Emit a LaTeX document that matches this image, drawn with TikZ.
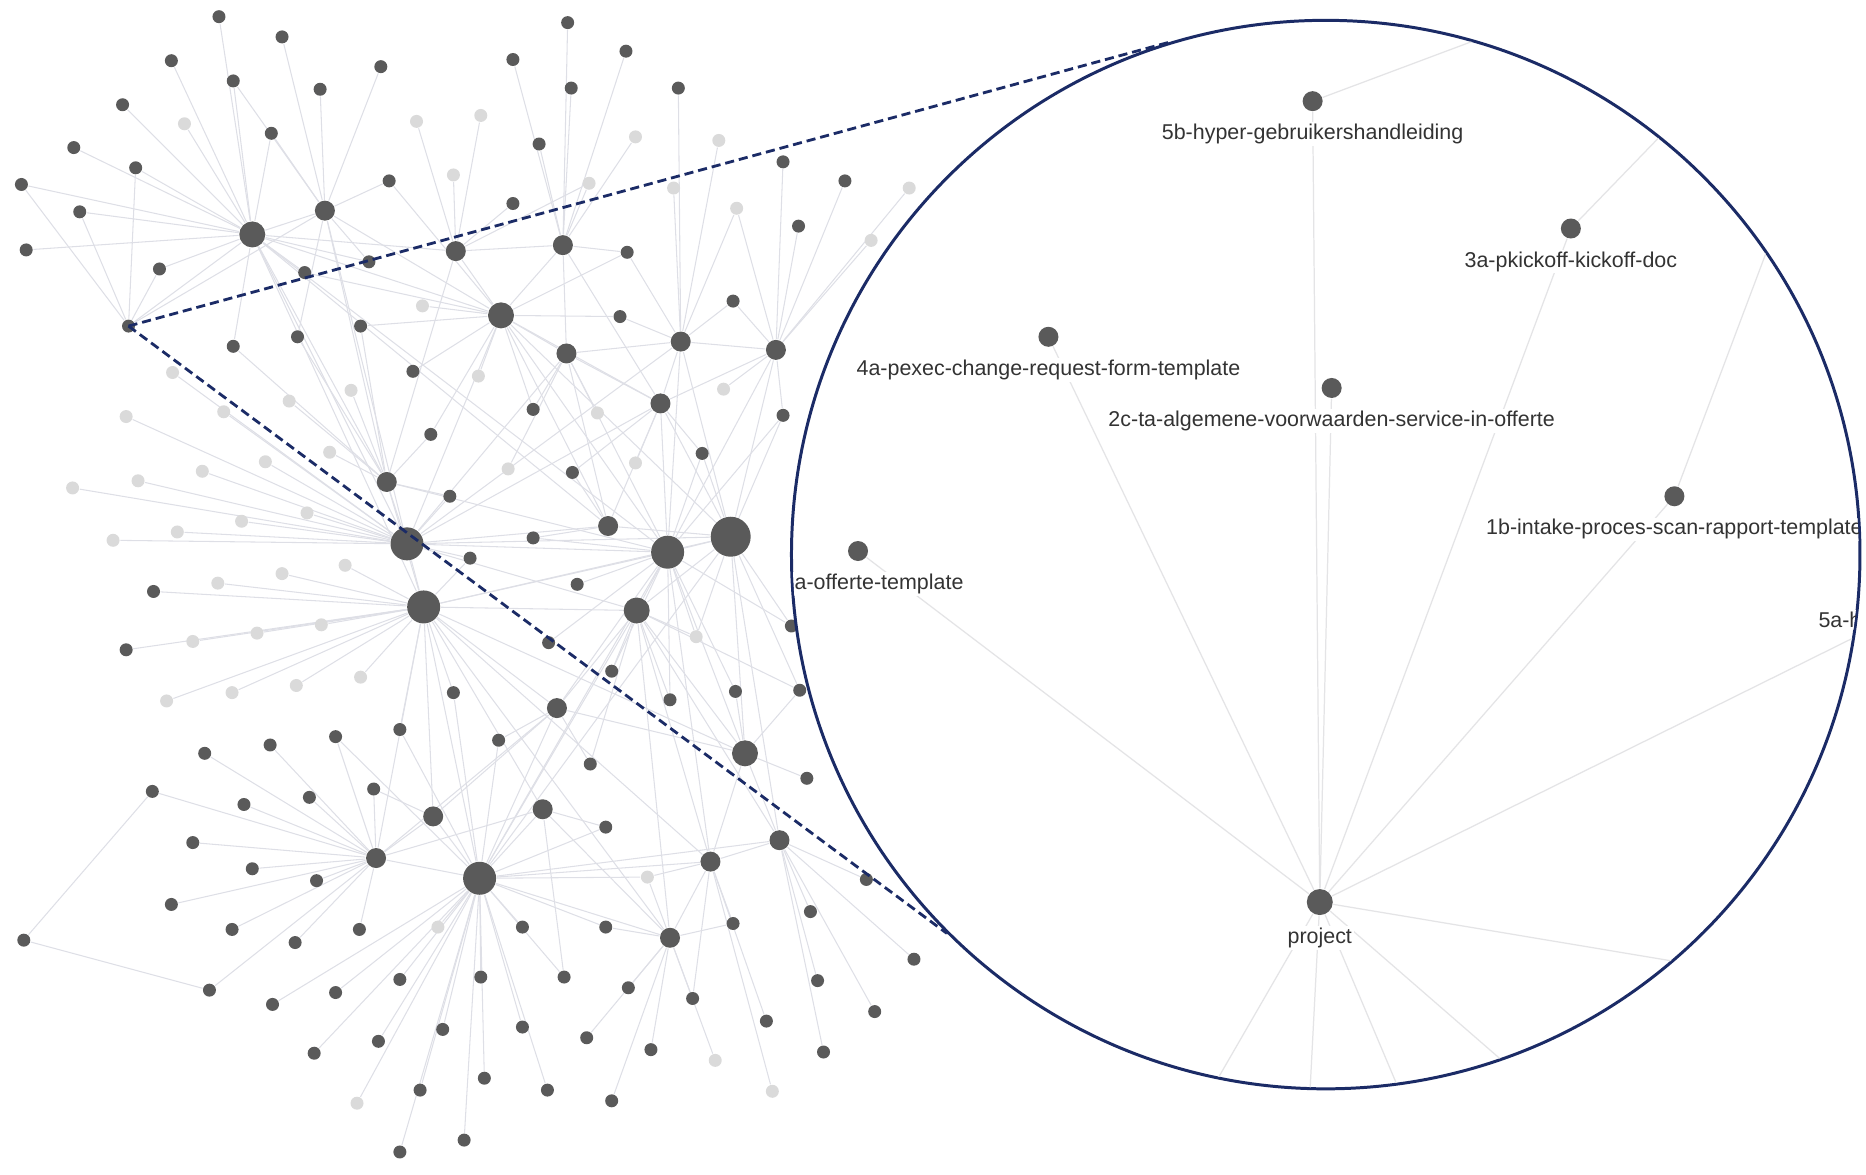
\documentclass[tikz,border=0pt]{standalone}
\usepackage{fontspec}
\setmainfont{Liberation Sans}
\usetikzlibrary{positioning,backgrounds}

\definecolor{dotgray}{HTML}{5A5A5A}
\definecolor{dotlite}{HTML}{DADADA}
\definecolor{linkgray}{HTML}{DEDFE6}
\definecolor{lenslink}{HTML}{E4E4E6}
\definecolor{lensblue}{HTML}{1B2B66}
\definecolor{labelgray}{HTML}{333333}

\begin{document}
\begin{tikzpicture}[x=0.0119cm, y=-0.0119cm,
  dot/.style={circle, fill=dotgray, inner sep=0pt, minimum size=1.3mm},
  lite/.style={dot, fill=dotlite},
  mid/.style={dot, minimum size=2mm},
  big/.style={dot, minimum size=2.6mm},
  huge/.style={dot, minimum size=3.3mm},
  giant/.style={dot, minimum size=4mm},
  link/.style={draw=linkgray, line width=0.3pt},
  zlink/.style={draw=lenslink, line width=0.35pt},
  lens/.style={circle, draw=lensblue, line width=0.85pt, fill=white, inner sep=0pt, minimum size=10.686cm},
  zoomline/.style={draw=lensblue, line width=0.8pt, dash pattern=on 2.6pt off 1.4pt},
  lbl/.style={font=\fontsize{6.1}{7}\selectfont, text=labelgray, fill=white, inner sep=0.5pt}]

\useasboundingbox (0,0) rectangle (1568,987);

% hubs
\node[big] (A) at (212,197) {};
\node[mid] (B) at (273,177) {};
\node[big] (C) at (421,265) {};
\node[huge] (D) at (342,457) {};
\node[huge] (E) at (356,510) {};
\node[huge] (F) at (561,464) {};
\node[giant] (G) at (614,451) {};
\node[big] (H) at (535,513) {};
\node[huge] (I) at (403,738) {};
\node[mid] (J) at (316,721) {};
\node[mid] (K) at (563,788) {};
\node[mid] (L) at (597,724) {};
\node[mid] (M) at (655,706) {};
\node[big] (N) at (626,633) {};
\node[mid] (P) at (555,339) {};
\node[mid] (Q) at (511,442) {};
\node[mid] (R) at (325,405) {};
\node[mid] (S) at (572,287) {};
\node[mid] (T) at (652,294) {};
\node[mid] (U) at (473,206) {};
\node[mid] (V) at (383,211) {};
\node[mid] (W) at (476,297) {};
\node[mid] (X) at (468,595) {};
\node[mid] (Y) at (456,680) {};
\node[mid] (Z) at (364,686) {};
\node[dot] (o) at (108,274) {};

% leaves
\foreach \n/\x/\y in {a1/184/14, a2/144/51, a3/196/68, a4/103/88, a6/228/112, a7/62/124,
    a8/114/141, a9/18/155, a10/67/178, a11/22/210, a12/134/226, a13/256/229,
    b1/237/31, b2/269/75, b3/320/56, b4/327/152, b5/310/220, v4/431/171,
    u1/431/50, u2/477/19, u3/480/74, u4/526/43, u5/453/121,
    c2/303/274, c3/347/312, c5/362/365, c6/521/266,
    s1/570/74, s4/527/212, s5/616/253, t1/658/136, t2/710/152, t3/671/190, t7/658/349,
    w1/448/344, p2/590/381, p3/481/397, r3/250/283, r4/196/291, r6/378/417,
    d12/395/469, e4/129/497, e5/106/546, e13/381/582, e14/336/613,
    f1/448/452, f2/485/491, f3/461/540, f4/514/564, f6/563/588, f7/618/581,
    g1/665/526, g2/672/580, n1/678/654, x1/419/622, x2/496/642, y1/509/695,
    j1/172/633, j2/227/626, j3/282/619, j4/128/665, j5/205/676, j6/260/670, j7/314/663,
    j8/162/708, j9/212/730, j10/266/740, j11/144/760, j12/195/781, j13/248/792,
    j14/302/781, j15/20/790, j16/176/832,
    i3/439/779, i4/509/779, i5/229/844, i6/282/834, i7/336/823, i8/404/821, i9/474/821,
    i10/372/865, i11/439/863, i12/318/875, i13/264/885, i14/407/906, i15/353/916,
    i16/460/916, i18/390/958, i19/336/968,
    k1/528/830, k2/582/839, k3/547/882, k4/493/872, k5/514/925,
    l1/616/776, l2/644/858, m1/681/766, m2/728/739, m3/768/806, m4/687/824,
    m5/735/850, m6/692/884}
  \node[dot] (\n) at (\x,\y) {};

\foreach \n/\x/\y in {a5/155/104, v1/350/102, v2/404/97, v3/381/147, u6/495/154, u7/534/115,
    c1/355/257, c4/402/316, s2/566/158, s3/604/118, t4/764/158, t5/732/202, t6/619/175,
    t8/608/327, w2/502/347, w3/427/394, p1/534/389, r1/295/328, r2/243/337, r5/277/380,
    d1/145/313, d2/106/350, d3/188/346, d4/223/388, d5/170/396, d6/116/404, d7/61/410,
    d8/258/431, d9/203/438, d10/149/447, d11/95/454,
    e1/290/475, e2/237/482, e3/183/490, e6/162/539, e7/216/532, e8/270/525,
    e9/140/589, e10/195/582, e11/249/576, e12/303/569,
    f5/585/535, i1/544/737, i2/368/779, i17/300/927, k6/601/891, l3/649/917}
  \node[lite] (\n) at (\x,\y) {};

% links
\begin{scope}[on background layer]
\foreach \h/\ls in {A/{a1,a2,a3,a4,a5,a6,a7,a8,a9,a10,a11,a12,a13}, B/{b1,b2,b3,b4,b5},
    C/{c1,c2,c3,c4,c5,c6}, V/{v1,v2,v3,v4}, U/{u1,u2,u3,u4,u5,u6,u7}, S/{s1,s2,s3,s4,s5},
    T/{t1,t2,t3,t4,t5,t6,t7,t8}, W/{w1,w2,w3}, P/{p1,p2,p3}, R/{r1,r2,r3,r4,r5,r6},
    D/{d1,d2,d3,d4,d5,d6,d7,d8,d9,d10,d11,d12},
    E/{e1,e2,e3,e4,e5,e6,e7,e8,e9,e10,e11,e12,e13,e14},
    F/{f1,f2,f3,f4,f5,f6,f7}, G/{g1,g2}, N/{n1}, X/{x1,x2}, Y/{y1},
    J/{j1,j2,j3,j4,j5,j6,j7,j8,j9,j10,j11,j12,j13,j14,j16},
    I/{i1,i2,i3,i4,i5,i6,i7,i8,i9,i10,i11,i12,i13,i14,i15,i16,i17,i18,i19},
    K/{k1,k2,k3,k4,k5,k6}, L/{l1,l2,l3}, M/{m1,m2,m3,m4,m5,m6}}
  \foreach \l in \ls
    \draw[link] (\h) -- (\l);

\foreach \a/\b in {o/A, o/B, o/a8, o/a9, o/a10, o/a12, A/B, A/C, A/R, A/D, A/E, A/V, A/r4,
    A/b5, B/C, B/R, B/a3, B/a6, B/r3, C/V, C/U, C/W, C/D, C/P, C/b4, C/a13, C/w1, C/s4,
    U/V, U/W, U/s4, V/u6, S/P, S/T, S/G, S/W, S/c6, S/t6, T/G, T/P, T/s5, W/D, W/P, W/Q,
    P/F, P/G, P/Q, R/D, R/E, R/c2, R/c5, D/E, D/F, D/Q, D/G, D/H, D/r6,
    E/F, E/G, E/H, E/I, E/J, E/X, E/Z, E/Y, E/d12, F/G, F/H, F/N, F/X, F/L,
    G/N, G/H, G/M, G/Q, G/p2, G/t7, H/X, H/N, H/I, H/K, H/f4, H/f5, H/f6,
    I/J, I/Z, I/Y, I/K, I/L, I/X, I/M, I/e13, I/e14, I/x1, I/j3, J/Z, Z/j7,
    K/L, K/Y, K/l1, K/i4, L/M, L/N, L/i1, L/k2, M/N, N/X, N/f7, N/g2, Y/i9,
    Q/f1, Q/p3, j4/j15, j15/j16,
    A/Q, A/F, B/D, C/F, C/G, C/Q, D/P, D/S, E/N, E/K, E/L, F/I, G/I, H/L, H/M,
    J/X, J/Y, R/F, U/P, V/R, W/F, Z/X, T/F, S/F, F/g1, H/g2, F/t7, F/p2, G/f5,
    H/x2, I/y1, K/i1}
  \draw[link] (\a) -- (\b);
\end{scope}

% magnifier
\node[lens] (lens) at (1114,466) {};
\draw[zoomline] (o.center) -- (lens.107.8);
\draw[zoomline] (o.center) -- (lens.225.5);

\begin{scope}
\clip (lens.center) circle[radius=5.33cm];
\node[mid] (z5b) at (1103,85) {};
\node[mid] (z3a) at (1320,192) {};
\node[mid] (z4a) at (881,283) {};
\node[mid] (z2c) at (1119,326) {};
\node[mid] (z1b) at (1407,417) {};
\node[mid] (zoff) at (721,463) {};
\node[big] (zproj) at (1109,758) {};
\coordinate (z5a) at (1620,505);
\coordinate (q1) at (1290,15);
\coordinate (q2) at (1440,68);
\coordinate (q3) at (1500,170);
\coordinate (q4) at (1480,820);
\coordinate (q5) at (975,990);
\coordinate (q6) at (1097,990);
\coordinate (q7) at (1207,990);
\coordinate (q8) at (1376,990);

\foreach \a/\b in {z5b/q1, z3a/q2, z1b/q3, zproj/z5b, zproj/z2c, zproj/z3a, zproj/z4a,
    zproj/z1b, zproj/zoff, zproj/z5a, zproj/q4, zproj/q5, zproj/q6, zproj/q7, zproj/q8}
  \draw[zlink] (\a) -- (\b);

\node[lbl, below=2.8pt of z5b] (t5b) {5b-hyper-gebruikershandleiding};
\node[lbl, below=2.8pt of z3a] (t3a) {3a-pkickoff-kickoff-doc};
\node[lbl, below=2.8pt of z4a] (t4a) {4a-pexec-change-request-form-template};
\node[lbl, below=2.8pt of z2c] (t2c) {2c-ta-algemene-voorwaarden-service-in-offerte};
\node[lbl, below=2.8pt of z1b] (t1b) {1b-intake-proces-scan-rapport-template};
\node[lbl, below=2.8pt of zoff, xshift=0.21cm] (toff) {a-offerte-template};
\node[lbl, below=2.8pt of zproj] (tproj) {project};
\node[lbl, anchor=west] (t5a) at (1526,521) {5a-h};
\end{scope}
\end{tikzpicture}
\end{document}
